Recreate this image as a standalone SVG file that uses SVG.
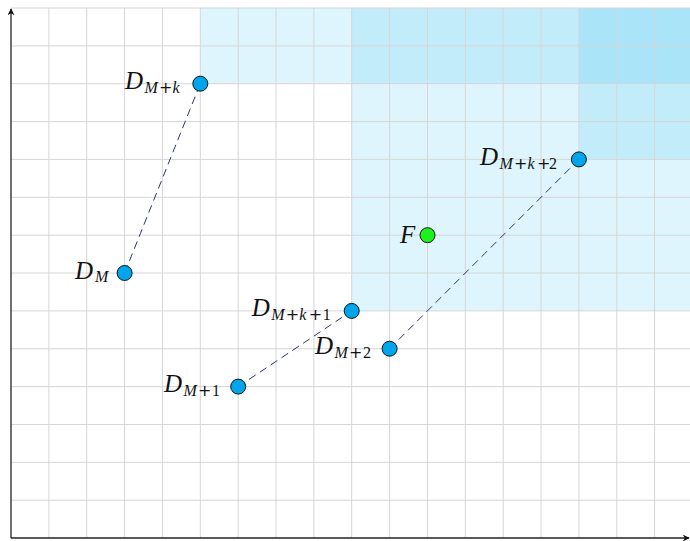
<svg xmlns="http://www.w3.org/2000/svg" width="690" height="541" viewBox="0 0 690 541">
<style>
.grid line{stroke:#d6d6d6;stroke-width:1}
.shade{fill:#00aeef;fill-opacity:0.125}
.conn line{stroke:#2b3868;stroke-width:1;stroke-dasharray:8 5}
.pt{fill:#00a5ec;stroke:#000;stroke-width:0.9}
.ptf{fill:#1ef01e;stroke:#000;stroke-width:0.9}
.lbl{font-family:"Liberation Serif",serif;font-style:italic;font-size:25px;fill:#111}
.sub{font-size:16px}
.op{font-family:"DejaVu Sans",sans-serif;font-style:normal;font-size:16px}
.dg{font-style:normal;font-size:16px}
.axis{stroke:#222;stroke-width:1.3;fill:none}
</style>
<defs>
<marker id="arr" viewBox="0 0 10 10" refX="9" refY="5" markerWidth="7" markerHeight="7" orient="auto" markerUnits="userSpaceOnUse">
<path d="M0,0 L10,5 L0,10 L3,5 Z" fill="#111"/>
</marker>
</defs>
<rect width="690" height="541" fill="#fff"/>
<g id="shading">
<rect class="shade" x="200.3" y="8" width="489.7" height="75.7"/>
<rect class="shade" x="351.7" y="8" width="338.3" height="302.9"/>
<rect class="shade" x="578.9" y="8" width="111.1" height="151.4"/>
</g>
<g class="grid" id="grid">
<line x1="48.9" y1="8" x2="48.9" y2="538"/>
<line x1="86.7" y1="8" x2="86.7" y2="538"/>
<line x1="124.6" y1="8" x2="124.6" y2="538"/>
<line x1="162.4" y1="8" x2="162.4" y2="538"/>
<line x1="200.3" y1="8" x2="200.3" y2="538"/>
<line x1="238.2" y1="8" x2="238.2" y2="538"/>
<line x1="276" y1="8" x2="276" y2="538"/>
<line x1="313.9" y1="8" x2="313.9" y2="538"/>
<line x1="351.7" y1="8" x2="351.7" y2="538"/>
<line x1="389.6" y1="8" x2="389.6" y2="538"/>
<line x1="427.5" y1="8" x2="427.5" y2="538"/>
<line x1="465.3" y1="8" x2="465.3" y2="538"/>
<line x1="503.2" y1="8" x2="503.2" y2="538"/>
<line x1="541" y1="8" x2="541" y2="538"/>
<line x1="578.9" y1="8" x2="578.9" y2="538"/>
<line x1="616.8" y1="8" x2="616.8" y2="538"/>
<line x1="654.6" y1="8" x2="654.6" y2="538"/>
<line x1="11" y1="8" x2="690" y2="8"/>
<line x1="11" y1="45.9" x2="690" y2="45.9"/>
<line x1="11" y1="83.7" x2="690" y2="83.7"/>
<line x1="11" y1="121.6" x2="690" y2="121.6"/>
<line x1="11" y1="159.4" x2="690" y2="159.4"/>
<line x1="11" y1="197.3" x2="690" y2="197.3"/>
<line x1="11" y1="235.2" x2="690" y2="235.2"/>
<line x1="11" y1="273" x2="690" y2="273"/>
<line x1="11" y1="310.9" x2="690" y2="310.9"/>
<line x1="11" y1="348.7" x2="690" y2="348.7"/>
<line x1="11" y1="386.6" x2="690" y2="386.6"/>
<line x1="11" y1="424.5" x2="690" y2="424.5"/>
<line x1="11" y1="462.3" x2="690" y2="462.3"/>
<line x1="11" y1="500.2" x2="690" y2="500.2"/>
</g>
<g id="axes">
<line class="axis" x1="11" y1="538" x2="11" y2="9" marker-end="url(#arr)"/>
<line class="axis" x1="11" y1="538" x2="689" y2="538" marker-end="url(#arr)"/>
</g>
<g class="conn" id="connectors">
<line x1="124.6" y1="273" x2="200.3" y2="83.7"/>
<line x1="238.2" y1="386.6" x2="351.7" y2="310.9"/>
<line x1="389.6" y1="348.7" x2="578.9" y2="159.4"/>
</g>
<g id="node-DM">
<circle class="pt" cx="124.6" cy="273" r="7.5"/>
<text class="lbl" x="75" y="278.8">D<tspan class="sub" x="95" y="282.3">M</tspan></text>
</g>
<g id="node-DMk">
<circle class="pt" cx="200.3" cy="83.7" r="7.5"/>
<text class="lbl" x="125" y="89.2">D<tspan class="sub" x="144.5" y="92.7">M</tspan><tspan class="op" x="159" y="92.7">+</tspan><tspan class="sub" x="172.5" y="92.7">k</tspan></text>
</g>
<g id="node-DM1">
<circle class="pt" cx="238.2" cy="386.6" r="7.5"/>
<text class="lbl" x="164" y="392.1">D<tspan class="sub" x="183.5" y="395.6">M</tspan><tspan class="op" x="198" y="395.6">+</tspan><tspan class="dg" x="212" y="395.6">1</tspan></text>
</g>
<g id="node-DMk1">
<circle class="pt" cx="351.7" cy="310.9" r="7.5"/>
<text class="lbl" x="251.7" y="316.2">D<tspan class="sub" x="271.2" y="319.7">M</tspan><tspan class="op" x="285.7" y="319.7">+</tspan><tspan class="sub" x="299.2" y="319.7">k</tspan><tspan class="op" x="308.7" y="319.7">+</tspan><tspan class="dg" x="322.7" y="319.7">1</tspan></text>
</g>
<g id="node-DM2">
<circle class="pt" cx="389.6" cy="348.7" r="7.5"/>
<text class="lbl" x="315" y="354.2">D<tspan class="sub" x="334.5" y="357.7">M</tspan><tspan class="op" x="349" y="357.7">+</tspan><tspan class="dg" x="363" y="357.7">2</tspan></text>
</g>
<g id="node-DMk2">
<circle class="pt" cx="578.9" cy="159.4" r="7.5"/>
<text class="lbl" x="480" y="165">D<tspan class="sub" x="499.5" y="168.5">M</tspan><tspan class="op" x="514" y="168.5">+</tspan><tspan class="sub" x="527.5" y="168.5">k</tspan><tspan class="op" x="537" y="168.5">+</tspan><tspan class="dg" x="549" y="168.5">2</tspan></text>
</g>
<g id="node-F">
<circle class="ptf" cx="427.5" cy="235.2" r="7.5"/>
<text class="lbl" x="400" y="242.5">F</text>
</g>
</svg>
